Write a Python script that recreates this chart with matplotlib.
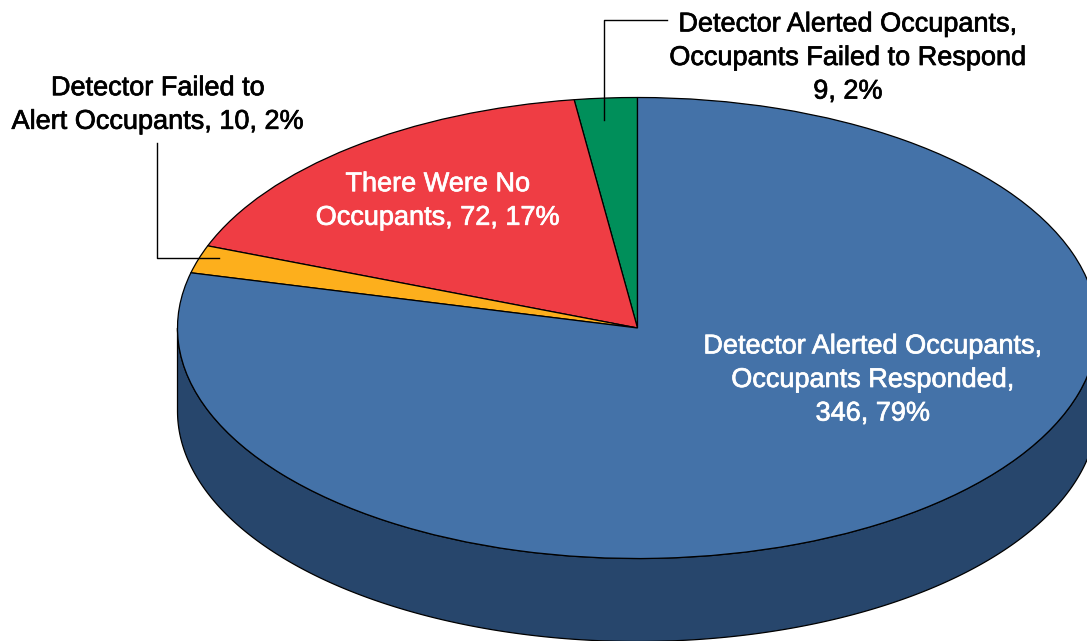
import numpy as np
import matplotlib
matplotlib.use("Agg")
import matplotlib.pyplot as plt
import matplotlib.patheffects as pe

names = ["Detector Alerted Occupants,\nOccupants Failed to Respond",
         "There Were No\nOccupants,",
         "Detector Failed to\nAlert Occupants,",
         "Detector Alerted Occupants,\nOccupants Responded,"]
counts = [9, 72, 10, 346]
percent_labels = [2, 17, 2, 79]
# slice shares as measured on the drawn pie (percent of the full circle)
slice_shares = [2.2, 17.0, 1.95, 78.85]
colors = ["#008f5a", "#ef3d44", "#fdaf1c", "#4472a8"]
side_color = "#27466c"

W, H = 1087, 641
CX, CY, RX, RY, DEPTH = 637.5, 328, 460, 230.5, 83

plt.rcParams['font.family'] = ['Liberation Sans', 'DejaVu Sans']
fig = plt.figure(figsize=(W/100, H/100), dpi=100, facecolor="white")
ax = fig.add_axes([0, 0, 1, 1])

ax.pie(slice_shares, colors=colors, startangle=90, counterclock=True, radius=1, center=(0, 0),
       wedgeprops=dict(edgecolor="black", linewidth=0.9, zorder=3), frame=True)

ax.set_aspect('auto')
ax.set_xlim((0-CX)/RX, (W-CX)/RX)
ax.set_ylim((CY-H)/RY, CY/RY)
ax.axis('off')
d = DEPTH/RY

# extruded rim of the pie
th = np.linspace(np.pi, 2*np.pi, 400)
xs = np.cos(th)
ys = np.sin(th)
ax.fill(np.r_[xs, xs[::-1]], np.r_[ys, ys[::-1]-d], facecolor=side_color,
        edgecolor="black", linewidth=0.9, zorder=2, clip_on=True)

def px(x, y):
    return (x-CX)/RX, (CY-y)/RY

def lab(i):
    c, p = counts[i], percent_labels[i]
    if i == 0:
        return f"{names[i]}\n{c}, {p}%"
    if i == 3:
        return f"{names[i]}\n{c}, {p}%"
    return f"{names[i]} {c}, {p}%"

style = dict(ha="center", va="center", fontsize=19.5, linespacing=1.38, zorder=5)
def put(x, y, i, color):
    t = ax.text(*px(x, y), lab(i), color=color, **style)
    t.set_path_effects([pe.withStroke(linewidth=0.5, foreground=color)])

put(848, 58, 0, "black")
put(438, 201, 1, "white")
put(158, 105, 2, "black")
put(873, 380, 3, "white")

# leader lines
ax.plot(*zip(px(667, 20), px(604, 20), px(604, 120)), color="black", lw=1, zorder=6)
ax.plot(*zip(px(157, 143), px(157, 258), px(219, 258)), color="black", lw=1, zorder=6)

fig.savefig("out.png", dpi=100, facecolor="white")
